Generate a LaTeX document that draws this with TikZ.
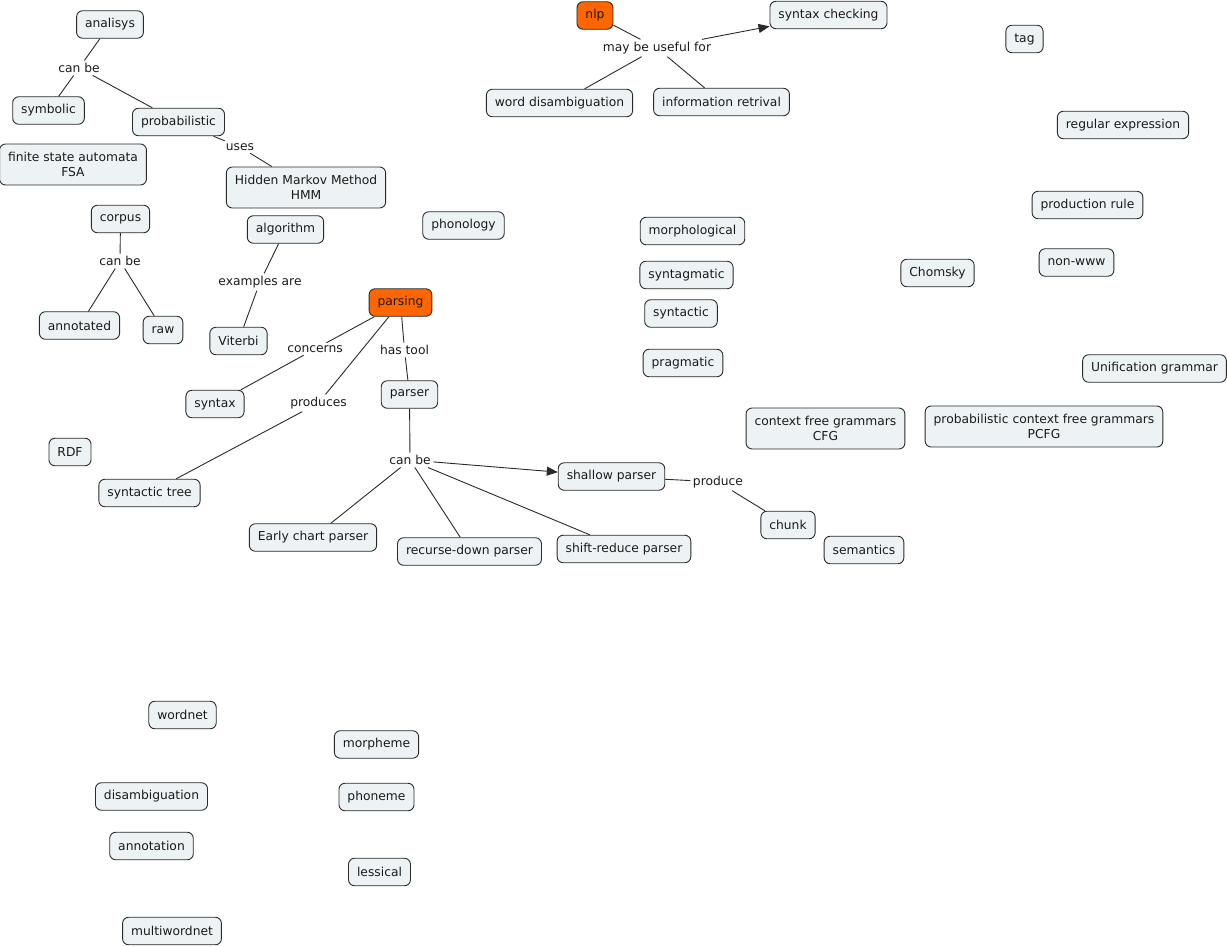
\documentclass[tikz,border=0pt]{standalone}
\usepackage{fontspec}
\setmainfont{DejaVu Sans}
\usetikzlibrary{arrows.meta, positioning}
\definecolor{cmFill}{HTML}{EDF3F5}
\definecolor{cmRoot}{HTML}{FF6600}
\definecolor{cmInk}{HTML}{1A1A1A}
\definecolor{cmEdge}{HTML}{2A2A2A}
\tikzset{
  cm-concept/.style={
    rectangle, rounded corners=6pt, draw=cmEdge, fill=cmFill,
    line width=0.9pt, text=cmInk, align=center,
    inner xsep=8.5pt, inner ysep=0pt, minimum height=27.5pt,
    font=\fontsize{12.3}{15}\selectfont
  },
  cm-root/.style={cm-concept, fill=cmRoot},
  cm-two/.style={cm-concept, minimum height=41pt},
  cm-link/.style={
    inner sep=2.5pt, text=cmInk, font=\fontsize{12.3}{15}\selectfont
  },
  cm-line/.style={draw=cmEdge, line width=0.9pt},
  cm-arrow/.style={cm-line, -{Triangle[length=11pt, width=9pt]}},
}

\begin{document}
\begin{tikzpicture}[x=1pt, y=-1pt]
  \useasboundingbox (0,0) rectangle (1227,946);

  % analysis branch
  \node[cm-concept] (analisys) at (110,24.5) {analisys};
  \node[cm-link]    (canbeA)   at (79,68)    {can be};
  \node[cm-concept] (symbolic) at (48.5,110.5) {symbolic};
  \node[cm-concept] (probab)   at (178.5,122) {probabilistic};
  \node[cm-link]    (uses)     at (240,147)  {uses};
  \node[cm-two]     (fsa)      at (73,164.5) {finite state automata\\FSA};
  \node[cm-two]     (hmm)      at (306,187.5) {Hidden Markov Method\\HMM};

  \draw[cm-line] (analisys) -- (canbeA);
  \draw[cm-line] (canbeA) -- (symbolic);
  \draw[cm-line] (canbeA) -- (probab);
  \draw[cm-line] (probab) -- (uses);
  \draw[cm-line] (uses) -- (hmm);

  % corpus
  \node[cm-concept] (corpus)    at (120.5,219) {corpus};
  \node[cm-link]    (canbeB)    at (120,261)   {can be};
  \node[cm-concept] (annotated) at (79.5,325.5) {annotated};
  \node[cm-concept] (raw)       at (163,330)   {raw};

  \draw[cm-line] (corpus) -- (canbeB);
  \draw[cm-line] (canbeB) -- (annotated);
  \draw[cm-line] (canbeB) -- (raw);

  % algorithm
  \node[cm-concept] (algorithm) at (285.5,229.5) {algorithm};
  \node[cm-link]    (examples)  at (260,282)    {examples are};
  \node[cm-concept] (viterbi)   at (238.5,341)  {Viterbi};

  \draw[cm-line] (algorithm) -- (examples);
  \draw[cm-line] (examples) -- (viterbi);

  % parsing
  \node[cm-root]    (parsing)  at (400.5,302.5) {parsing};
  \node[cm-link]    (concerns) at (315,349)    {concerns};
  \node[cm-link]    (hastool)  at (404.5,350)  {has tool};
  \node[cm-link]    (produces) at (318.5,403)  {produces};
  \node[cm-concept] (syntax)   at (215,404)    {syntax};
  \node[cm-concept] (parser)   at (409.5,394.5) {parser};
  \node[cm-concept] (syntree)  at (149.5,493)  {syntactic tree};
  \node[cm-link]    (canbeC)   at (410,460)    {can be};
  \node[cm-concept] (shallow)  at (611.5,476.5) {shallow parser};
  \node[cm-link]    (produce)  at (718,482)    {produce};
  \node[cm-concept] (chunk)    at (788,525)    {chunk};
  \node[cm-concept] (early)    at (313,537.5)  {Early chart parser};
  \node[cm-concept] (recdown)  at (469.5,551.5) {recurse-down parser};
  \node[cm-concept] (shiftred) at (624,549)    {shift-reduce parser};

  \draw[cm-line] (parsing) -- (concerns);
  \draw[cm-line] (concerns) -- (syntax);
  \draw[cm-line] (parsing) -- (produces);
  \draw[cm-line] (produces) -- (syntree);
  \draw[cm-line] (parsing) -- (hastool);
  \draw[cm-line] (hastool) -- (parser);
  \draw[cm-line] (parser) -- (canbeC);
  \draw[cm-arrow] (canbeC) -- (shallow);
  \draw[cm-line] (canbeC) -- (early);
  \draw[cm-line] (canbeC) -- (recdown);
  \draw[cm-line] (canbeC) -- (shiftred);
  \draw[cm-line] (shallow) -- (produce);
  \draw[cm-line] (produce) -- (chunk);

  % nlp
  \node[cm-root]    (nlp)      at (595,15.5)  {nlp};
  \node[cm-link]    (useful)   at (657,48)    {may be useful for};
  \node[cm-concept] (syncheck) at (828.5,15)  {syntax checking};
  \node[cm-concept] (worddis)  at (559.5,103) {word disambiguation};
  \node[cm-concept] (inforet)  at (721.5,102) {information retrival};

  \draw[cm-line] (nlp) -- (useful);
  \draw[cm-arrow] (useful) -- (syncheck);
  \draw[cm-line] (useful) -- (worddis);
  \draw[cm-line] (useful) -- (inforet);

  % loose concepts
  \node[cm-concept] (phonology)   at (463.5,225.5) {phonology};
  \node[cm-concept] (rdf)         at (70,452)     {RDF};
  \node[cm-concept] (semantics)   at (864,550)    {semantics};
  \node[cm-concept] (tag)         at (1024.5,39)  {tag};
  \node[cm-concept] (regexp)      at (1123,125)   {regular expression};
  \node[cm-concept] (prodrule)    at (1087.5,205) {production rule};
  \node[cm-concept] (morphol)     at (692.5,231)  {morphological};
  \node[cm-concept] (syntagm)     at (686.5,275)  {syntagmatic};
  \node[cm-concept] (syntactic)   at (681,313.5)  {syntactic};
  \node[cm-concept] (pragmatic)   at (683,363)    {pragmatic};
  \node[cm-concept] (chomsky)     at (937.5,273)  {Chomsky};
  \node[cm-concept] (nonwww)      at (1076.5,262.5) {non-www};
  \node[cm-concept] (unification) at (1154.5,368.5) {Unification grammar};
  \node[cm-two]     (cfg)         at (825.5,428.5) {context free grammars\\CFG};
  \node[cm-two]     (pcfg)        at (1044,426.5) {probabilistic context free grammars\\PCFG};
  \node[cm-concept] (wordnet)     at (182.5,715)  {wordnet};
  \node[cm-concept] (morpheme)    at (376.5,744.5) {morpheme};
  \node[cm-concept] (disamb)      at (151.5,796.5) {disambiguation};
  \node[cm-concept] (phoneme)     at (376.5,797)  {phoneme};
  \node[cm-concept] (annotation)  at (151.5,846)  {annotation};
  \node[cm-concept] (lessical)    at (379.5,872)  {lessical};
  \node[cm-concept] (multiwn)     at (172,931)    {multiwordnet};
\end{tikzpicture}
\end{document}
